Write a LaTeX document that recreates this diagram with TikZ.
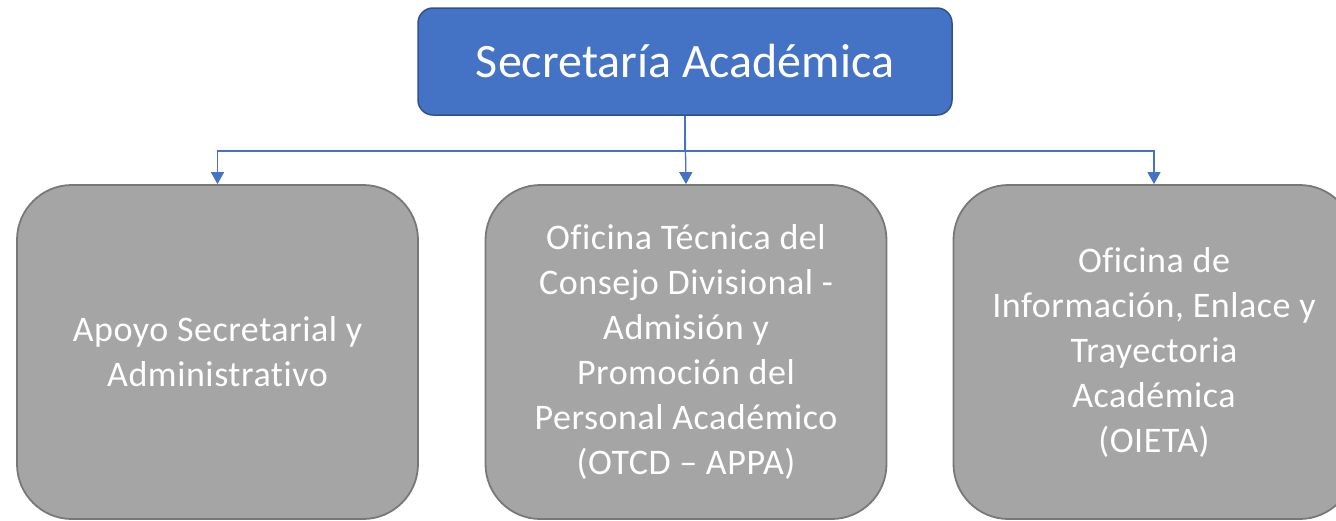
\documentclass[tikz,border=0pt]{standalone}
\usepackage{fontspec}
\setmainfont[Ligatures=NoCommon]{Carlito}
\newfontfamily\boxfont[Ligatures=NoCommon,LetterSpace=1.5]{Carlito}
\usetikzlibrary{arrows.meta}
\definecolor{topfill}{HTML}{4472C4}
\definecolor{topdraw}{HTML}{2F528F}
\definecolor{boxfill}{HTML}{A5A5A5}
\definecolor{boxdraw}{HTML}{787878}
\definecolor{conncol}{HTML}{4472C4}
\tikzset{
  topbox/.style={draw=topdraw, fill=topfill, line width=1.5pt, rounded corners=15pt,
    minimum width=534pt, minimum height=107pt, inner sep=0pt, text=white,
    font=\fontsize{48}{58}\selectfont},
  unitbox/.style={draw=boxdraw, fill=boxfill, line width=1.8pt, rounded corners=55pt,
    minimum width=401pt, minimum height=334pt, inner sep=0pt, text=white, align=center,
    font=\boxfont\fontsize{36}{45}\selectfont},
  conn/.style={draw=conncol, line width=1.3pt, -{Triangle[width=13pt,length=12pt]}}
}
\begin{document}
\begin{tikzpicture}[x=1pt,y=-1pt]
\useasboundingbox (0,0) rectangle (1336,520);
\clip (0,0) rectangle (1336,520);
\node[topbox] (top) at (685,61.5) {Secretaría Académica};
\node[unitbox] (b1) at (217.5,352) {Apoyo Secretarial y\\Administrativo};
\node[unitbox] (b2) at (686,352) {Oficina Técnica del\\Consejo Divisional -\\Admisión y\\Promoción del\\Personal Académico\\(OTCD – APPA)};
\node[unitbox] (b3) at (1154,352) {Oficina de\\Información, Enlace y\\Trayectoria\\Académica\\(OIETA)};
\coordinate (bus) at (685,151);
\draw[conn] (top.south) -- (top.south |- bus) -| (b1.north);
\draw[conn] (top.south) -- (b2.north);
\draw[conn] (top.south |- bus) -| (b3.north);
\end{tikzpicture}
\end{document}
